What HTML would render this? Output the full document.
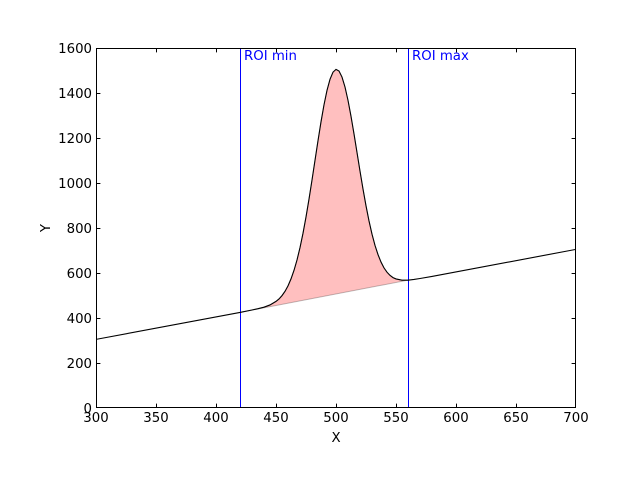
<!DOCTYPE html>
<html><head><meta charset="utf-8"><style>
html,body{margin:0;padding:0;background:#fff;}
svg{display:block;}
text{font-family:"DejaVu Sans","Liberation Sans",sans-serif;font-size:13.3px;fill:#000;}
</style></head><body>
<svg width="640" height="480" viewBox="0 0 640 480" xmlns="http://www.w3.org/2000/svg">
<rect x="0" y="0" width="640" height="480" fill="#fff"/>
<defs><clipPath id="ax"><rect x="96" y="48" width="480" height="360"/></clipPath></defs>
<g clip-path="url(#ax)">
<polygon fill="#ffbfbf" stroke="rgba(0,0,0,0.25)" stroke-width="1" points="240,312.4 252,310.0 258,308.7 264,307.2 270,304.95 276,301.4 279,298.96 282,295.6 285,291.34 288,285.9 291,278.9 294,270.35 297,259.99 300,247.6 303,233.26 306,217.0 309,199.14 312,180.1 315,160.31 318,140.65 321,121.89 324,104.8 327,90.36 330,79.3 333,72.14 336,69.38 339,71.01 342,77.05 345,86.99 348,100.3 351,116.26 354,133.9 357,152.44 360,171.08 363,189.01 366,205.75 369,220.89 372,234.1 375,245.36 378,254.6 381,262.04 384,267.9 387,272.21 390,275.35 393,277.59 396,278.93 402,280.2 408,280.18"/>
<line x1="240.5" y1="48" x2="240.5" y2="408" stroke="#0000ff" stroke-width="1"/>
<line x1="408.5" y1="48" x2="408.5" y2="408" stroke="#0000ff" stroke-width="1"/>
<polyline fill="none" stroke="#000" stroke-width="1.1" points="96,339.375 240,312.4 252,310.0 258,308.7 264,307.2 270,304.95 276,301.4 279,298.96 282,295.6 285,291.34 288,285.9 291,278.9 294,270.35 297,259.99 300,247.6 303,233.26 306,217.0 309,199.14 312,180.1 315,160.31 318,140.65 321,121.89 324,104.8 327,90.36 330,79.3 333,72.14 336,69.38 339,71.01 342,77.05 345,86.99 348,100.3 351,116.26 354,133.9 357,152.44 360,171.08 363,189.01 366,205.75 369,220.89 372,234.1 375,245.36 378,254.6 381,262.04 384,267.9 387,272.21 390,275.35 393,277.59 396,278.93 402,280.2 408,280.18 414,279.45 420,278.5 432,276.4 576,249.375"/>
</g>
<text x="244" y="60" style="fill:#0000ff">ROI min</text>
<text x="412" y="60" style="fill:#0000ff">ROI max</text>
<rect x="96.5" y="48.5" width="479" height="359" fill="none" stroke="#000" stroke-width="1"/>
<g stroke="#000" stroke-width="1">
<path d="M156.5,408V403.6M216.5,408V403.6M276.5,408V403.6M336.5,408V403.6M396.5,408V403.6M456.5,408V403.6M516.5,408V403.6
M156.5,48V52.4M216.5,48V52.4M276.5,48V52.4M336.5,48V52.4M396.5,48V52.4M456.5,48V52.4M516.5,48V52.4
M96,363.5H100.4M96,318.5H100.4M96,273.5H100.4M96,228.5H100.4M96,183.5H100.4M96,138.5H100.4M96,93.5H100.4
M576,363.5H571.6M576,318.5H571.6M576,273.5H571.6M576,228.5H571.6M576,183.5H571.6M576,138.5H571.6M576,93.5H571.6"/>
</g>
<g text-anchor="middle">
<text x="96" y="422">300</text>
<text x="156" y="422">350</text>
<text x="216" y="422">400</text>
<text x="276" y="422">450</text>
<text x="336" y="422">500</text>
<text x="396" y="422">550</text>
<text x="456" y="422">600</text>
<text x="516" y="422">650</text>
<text x="576" y="422">700</text>
<text x="336" y="442">X</text>
</g>
<g text-anchor="end">
<text x="92" y="413">0</text>
<text x="92" y="368">200</text>
<text x="92" y="323">400</text>
<text x="92" y="278">600</text>
<text x="92" y="233">800</text>
<text x="92" y="188">1000</text>
<text x="92" y="143">1200</text>
<text x="92" y="98">1400</text>
<text x="92" y="53">1600</text>
</g>
<text x="0" y="0" text-anchor="middle" transform="translate(50,228) rotate(-90)">Y</text>
</svg>
</body></html>
